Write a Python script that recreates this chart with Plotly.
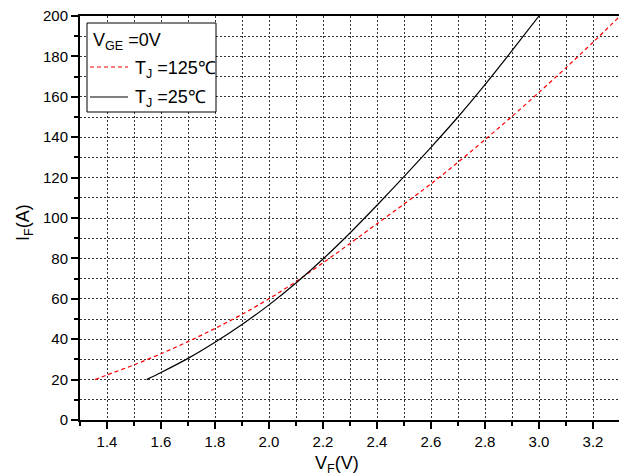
import plotly.graph_objects as go

# 25 °C curve
vf_25 = [1.547, 1.6, 1.7, 1.8, 1.9, 2.0, 2.1, 2.2, 2.3, 2.4, 2.5, 2.6, 2.7, 2.8, 2.9, 3.0]
if_25 = [20, 23.5, 30.5, 38.5, 47.3, 57, 67.8, 79.7, 92.6, 106.3, 120.5, 135, 150, 166, 182.8, 200]

# 125 °C curve
vf_125 = [1.356, 1.4, 1.5, 1.6, 1.7, 1.8, 1.9, 2.0, 2.1, 2.2, 2.3, 2.4, 2.5, 2.6, 2.7, 2.8, 2.9, 3.0, 3.1, 3.2, 3.295]
if_125 = [20, 22.3, 27.3, 32.8, 38.8, 45.3, 52.3, 60, 68.5, 77.8, 87.4, 97.2, 106.9, 116.9, 127.6, 138.8, 150.3, 162.2, 174.4, 187, 199.3]

legend_title = "V<sub>GE</sub> =0V"
name_125 = "T<sub>J</sub> =125\u2103"
name_25 = "T<sub>J</sub> =25\u2103"

W, H = 619, 476
L, R, T, B = 80, 0, 16, 56
FONT = "Liberation Sans, Arial, sans-serif"
pw = W - L - R
ph = H - T - B


def px(v):
    return (v - L) / pw


def py(v):
    return 1 - (v - T) / ph


fig = go.Figure()
fig.add_trace(go.Scatter(
    x=vf_125, y=if_125, mode="lines", name=name_125, showlegend=False,
    line=dict(color="#ff0000", width=1.2, dash="4px,3px", shape="spline", smoothing=0.8),
))
fig.add_trace(go.Scatter(
    x=vf_25, y=if_25, mode="lines", name=name_25, showlegend=False,
    line=dict(color="#000000", width=1.2, shape="spline", smoothing=0.8),
))

grid = dict(showgrid=True, gridcolor="#333333", gridwidth=1, griddash="2px,2px")

fig.update_xaxes(
    range=[1.3, 1.3 + pw / 270.0], tick0=1.4, dtick=0.2, tickformat=".1f",
    ticks="outside", ticklen=7, tickwidth=1.5, tickcolor="black",
    showline=True, linecolor="black", linewidth=2, mirror=True,
    zeroline=False, tickfont=dict(family=FONT, size=15, color="black"),
    minor=dict(dtick=0.1, tick0=1.3, ticks="outside", ticklen=4, tickwidth=1.5,
               tickcolor="black", **grid),
    **grid,
)
fig.update_yaxes(
    range=[0, 200], tick0=0, dtick=20,
    ticks="outside", ticklen=7, tickwidth=1.5, tickcolor="black",
    showline=True, linecolor="black", linewidth=2, mirror=False,
    zeroline=False, tickfont=dict(family=FONT, size=15, color="black"),
    minor=dict(dtick=10, tick0=0, ticks="outside", ticklen=4, tickwidth=1.5,
               tickcolor="black", **grid),
    **grid,
)

# axis titles
fig.add_annotation(
    text="V<sub>F</sub>(V)", xref="paper", yref="paper",
    x=px(336.5), y=py(464), xanchor="center", yanchor="middle",
    showarrow=False, font=dict(family=FONT, size=18, color="black"),
)
fig.add_annotation(
    text="I<sub>F</sub>(A)", xref="paper", yref="paper", textangle=-90,
    x=px(24), y=py(222), xanchor="center", yanchor="middle",
    showarrow=False, font=dict(family=FONT, size=18, color="black"),
)

# legend box (drawn manually to match the reference layout)
fig.add_shape(type="rect", xref="paper", yref="paper",
              x0=px(87), x1=px(216), y0=py(112), y1=py(23),
              line=dict(color="black", width=1), fillcolor="white", layer="above")
fig.add_shape(type="line", xref="paper", yref="paper",
              x0=px(90), x1=px(128), y0=py(67), y1=py(67),
              line=dict(color="#ff0000", width=1.2, dash="4px,3px"), layer="above")
fig.add_shape(type="line", xref="paper", yref="paper",
              x0=px(90), x1=px(128), y0=py(97), y1=py(97),
              line=dict(color="black", width=1.2), layer="above")
for txt, xx, yy in [(legend_title, 91, 41), (name_125, 133, 69), (name_25, 133, 99)]:
    fig.add_annotation(
        text=txt, xref="paper", yref="paper", x=px(xx), y=py(yy),
        xanchor="left", yanchor="middle", showarrow=False,
        font=dict(family=FONT, size=18, color="black"),
    )

fig.update_layout(
    width=W, height=H,
    margin=dict(l=L, r=R, t=T, b=B, pad=0),
    paper_bgcolor="white", plot_bgcolor="white",
    font=dict(family=FONT, color="black"),
    showlegend=False,
)

fig.write_html("out.html")
